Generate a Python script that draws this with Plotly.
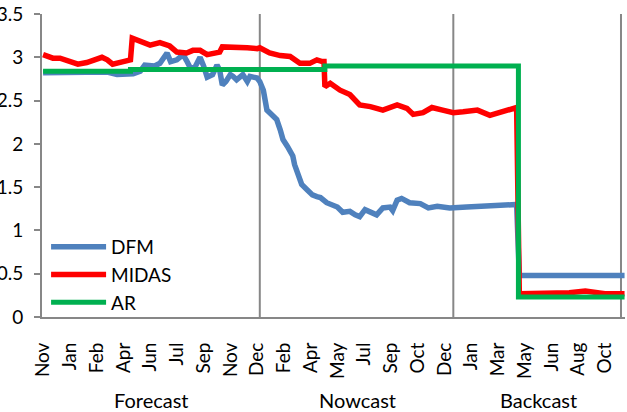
import plotly.graph_objects as go

# x = business-day index from start of forecast window, labels every 30 days
tick_days = list(range(0, 631, 30))
tick_labels = ["Nov", "Jan", "Feb", "Apr", "Jun", "Jul", "Sep", "Nov", "Dec", "Feb", "Apr",
               "May", "Jul", "Sep", "Oct", "Dec", "Jan", "Mar", "May", "Jun", "Aug", "Oct"]

dfm_days = [0, 11, 30, 56, 72, 83, 95, 101, 109, 114, 125, 131, 139, 143, 150, 157, 161, 165,
            170, 176, 180, 184, 190, 195, 198, 201, 205, 210, 213, 217, 224, 229, 232, 240,
            243, 247, 251, 256, 262, 266, 269, 274, 277, 280, 282, 286, 290, 296, 302, 307,
            311, 318, 325, 330, 336, 344, 350, 355, 361, 367, 374, 381, 389, 392, 397, 402,
            411, 423, 432, 442, 456, 475, 493, 516, 531, 534, 652]
dfm_vals = [2.82, 2.82, 2.82, 2.82, 2.83, 2.80, 2.80, 2.81, 2.84, 2.91, 2.90, 2.93, 3.05, 2.95,
            2.97, 3.03, 2.96, 2.88, 2.88, 3.00, 2.90, 2.77, 2.80, 2.91, 2.85, 2.68, 2.72, 2.80,
            2.78, 2.74, 2.80, 2.72, 2.78, 2.76, 2.72, 2.62, 2.39, 2.33, 2.28, 2.16, 2.05, 1.97,
            1.92, 1.86, 1.76, 1.66, 1.53, 1.47, 1.41, 1.39, 1.38, 1.32, 1.30, 1.27, 1.21, 1.22,
            1.18, 1.16, 1.24, 1.21, 1.18, 1.26, 1.27, 1.23, 1.35, 1.37, 1.32, 1.31, 1.26, 1.28,
            1.26, 1.27, 1.28, 1.29, 1.30, 0.48, 0.48]

midas_days = [0, 11, 19, 30, 39, 49, 56, 66, 72, 78, 90, 98, 100, 109, 120, 131, 142, 150,
              161, 168, 176, 184, 195, 198, 201, 213, 229, 240, 243, 254, 266, 277, 288, 299,
              307, 313, 315, 316, 322, 333, 344, 355, 367, 381, 397, 408, 415, 426, 436, 448,
              460, 471, 487, 501, 516, 531, 534, 560, 590, 608, 630, 652]
midas_vals = [3.03, 2.99, 2.99, 2.95, 2.92, 2.94, 2.96, 3.00, 2.97, 2.92, 2.95, 2.97, 3.22,
              3.18, 3.14, 3.17, 3.13, 3.06, 3.05, 3.08, 3.08, 3.03, 3.05, 3.06, 3.12, 3.12,
              3.11, 3.10, 3.11, 3.05, 3.02, 3.01, 2.93, 2.93, 2.97, 2.95, 2.95, 2.66, 2.70,
              2.62, 2.57, 2.45, 2.43, 2.39, 2.45, 2.41, 2.34, 2.36, 2.42, 2.39, 2.36, 2.37,
              2.39, 2.33, 2.37, 2.42, 0.27, 0.27, 0.28, 0.30, 0.27, 0.27]

ar_days = [0, 98, 316, 533, 652]
ar_vals = [2.84, 2.86, 2.90, 0.23, 0.23]

period_bounds = [243, 460, 648]
periods = ["Forecast", "Nowcast", "Backcast"]
period_centers = [122, 353, 556]

FONT = "Lato, Calibri, sans-serif"
AXIS_GREY = "#878787"

fig = go.Figure()
fig.add_trace(go.Scatter(x=dfm_days, y=dfm_vals, mode="lines", name="DFM",
                         line=dict(color="#4F81BD", width=5.5)))
fig.add_trace(go.Scatter(x=midas_days, y=midas_vals, mode="lines", name="MIDAS",
                         line=dict(color="#FF0000", width=5.5)))
fig.add_trace(go.Scatter(x=ar_days, y=ar_vals, mode="lines", name="AR",
                         line=dict(color="#00B050", width=5, shape="hv")))

for b in period_bounds:
    fig.add_shape(type="line", x0=b, x1=b, y0=0, y1=1, yref="paper",
                  line=dict(color=AXIS_GREY, width=2), layer="below")

annotations = [dict(text=p, x=c, xref="x", y=-0.275, yref="paper", showarrow=False,
                    font=dict(size=20, color="#000000"), yanchor="middle")
               for p, c in zip(periods, period_centers)]

fig.update_layout(
    width=627, height=412,
    margin=dict(l=42, r=2, t=14, b=95, autoexpand=False),
    plot_bgcolor="white", paper_bgcolor="white",
    font=dict(family=FONT, size=19, color="#000000"),
    showlegend=True,
    legend=dict(x=0.007, y=0.294, xanchor="left", yanchor="top",
                bgcolor="rgba(0,0,0,0)", font=dict(size=19), itemwidth=55,
                tracegroupgap=0),
    annotations=annotations,
    xaxis=dict(range=[-1.2, 652.5], tickmode="array", tickvals=tick_days,
               ticktext=tick_labels, tickangle=-90, showgrid=False, zeroline=False,
               showline=True, linecolor=AXIS_GREY, linewidth=2, ticks="",
               ticklabelstandoff=16, automargin=False),
    yaxis=dict(range=[0, 3.5], dtick=0.5, showgrid=False, zeroline=False,
               showline=True, linecolor=AXIS_GREY, linewidth=2, ticks="outside",
               ticklen=6, tickwidth=2, tickcolor=AXIS_GREY, ticklabelstandoff=7,
               automargin=False),
)

# the page body has a default 8px margin; drop it so the figure sits at the window corner
fig.write_html("out.html", config={"displayModeBar": False},
               post_script="document.body.style.margin='0px';")
